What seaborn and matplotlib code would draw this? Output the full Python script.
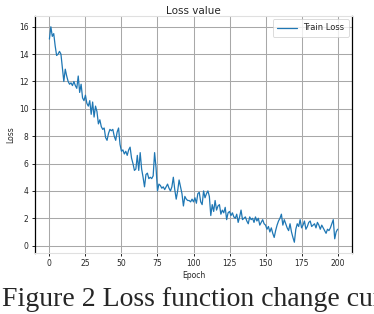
import matplotlib
matplotlib.use('Agg')
import matplotlib.pyplot as plt
import seaborn as sns
import pandas as pd

# loss per epoch
epochs = list(range(0, 201))
train_loss = [
    15.1, 16.0, 15.3, 15.5, 14.6, 13.9, 14.0, 14.2, 14.0, 13.0,
    12.0, 12.9, 12.4, 12.0, 11.8, 11.9, 11.7, 12.0, 11.7, 11.5,
    12.4, 11.2, 11.8, 10.8, 10.6, 11.0, 10.4, 10.2, 10.6, 9.6,
    10.5, 9.4, 10.2, 9.8, 8.9, 9.2, 8.7, 8.5, 8.6, 7.9,
    7.7, 8.2, 8.5, 8.4, 8.5, 8.0, 7.7, 8.3, 8.6, 7.4,
    6.9, 7.0, 6.7, 6.9, 6.6, 7.0, 7.2, 6.4, 6.0, 5.5,
    5.6, 6.6, 5.5, 6.8, 5.6, 5.0, 4.3, 5.2, 5.3, 4.9,
    5.0, 4.9, 5.1, 6.8, 5.7, 4.0, 4.5, 4.4, 4.2, 4.3,
    4.1, 4.3, 4.5, 4.2, 4.0, 4.3, 5.0, 4.1, 3.4, 4.0,
    4.8, 4.3, 3.8, 2.9, 3.6, 3.4, 3.3, 3.3, 3.2, 3.4,
    3.2, 3.5, 3.1, 3.8, 3.9, 3.2, 3.0, 4.0, 3.5, 3.8,
    4.0, 3.6, 2.2, 3.0, 2.5, 3.3, 2.6, 2.9, 3.0, 2.3,
    2.6, 2.4, 2.8, 1.9, 2.4, 2.5, 2.2, 2.4, 2.1, 2.0,
    2.3, 1.7, 2.1, 2.6, 1.9, 2.0, 2.1, 1.8, 1.6, 2.1,
    1.9, 2.0, 1.7, 2.1, 1.8, 2.0, 1.5, 1.7, 1.9, 1.6,
    1.5, 1.2, 1.4, 1.0, 1.3, 0.9, 0.6, 1.1, 1.5, 1.8,
    2.0, 2.3, 1.5, 1.9, 1.6, 1.3, 1.1, 1.6, 1.0, 0.6,
    0.25, 1.2, 1.6, 1.4, 1.9, 1.3, 1.5, 1.8, 1.2, 1.4,
    1.7, 1.8, 1.4, 1.5, 1.6, 1.3, 1.7, 1.5, 1.2, 1.5,
    1.3, 1.1, 0.9, 1.2, 1.1, 1.3, 1.6, 1.9, 0.5, 1.0,
    1.2,
]
x_ticks = [0, 25, 50, 75, 100, 125, 150, 175, 200]
y_ticks = [0, 2, 4, 6, 8, 10, 12, 14, 16]

df = pd.DataFrame({'Epoch': epochs, 'Loss': train_loss})

sns.set_theme(style='whitegrid')
plt.rcParams['font.family'] = ['DejaVu Sans']

fig = plt.figure(figsize=(3.74, 3.14), dpi=100)
ax = fig.add_axes([35 / 374, 1 - 253 / 314, 317 / 374, 237 / 314])

sns.lineplot(data=df, x='Epoch', y='Loss', ax=ax, color='#1f77b4',
             linewidth=0.9, label='Train Loss')

ax.set_xticks(x_ticks)
ax.set_yticks(y_ticks)
ax.grid(True, color='0.66', linewidth=0.75)
ax.tick_params(axis='both', labelsize=5.5, length=2.5, width=0.6, color='black',
               pad=2, bottom=True, left=True)
for side in ['left', 'right']:
    ax.spines[side].set_color('black')
    ax.spines[side].set_linewidth(0.9)
for side in ['top', 'bottom']:
    ax.spines[side].set_color('0.88')
    ax.spines[side].set_linewidth(0.8)

ax.set_title('Loss value', fontsize=7.5, pad=1.5)
ax.set_xlabel('Epoch', fontsize=5.5, labelpad=2)
ax.set_ylabel('Loss', fontsize=5.5, labelpad=3)
leg = ax.legend(loc='upper right', fontsize=6, frameon=True, handlelength=2.4,
                borderpad=0.5, borderaxespad=0.4)
leg.get_frame().set_edgecolor('0.8')
leg.get_frame().set_linewidth(0.6)

fig.text(0.005, 1 - 306 / 314, 'Figure 2 Loss function change curve',
         family=['Liberation Serif'], fontsize=20, va='baseline', ha='left')

fig.savefig('out.png', dpi=100)
